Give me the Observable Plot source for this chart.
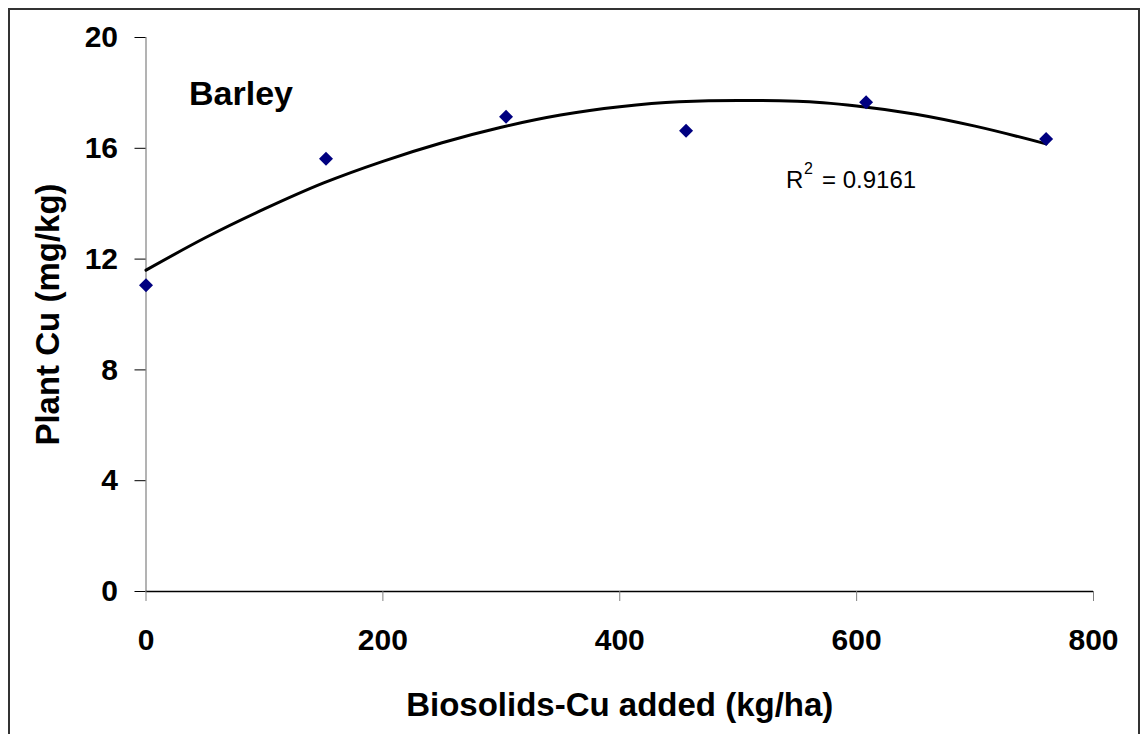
<!DOCTYPE html>
<html>
<head>
<meta charset="utf-8">
<script src="https://cdn.jsdelivr.net/npm/d3@7"></script>
<script src="https://cdn.jsdelivr.net/npm/@observablehq/plot@0.6"></script>
<style>
  html, body { margin: 0; padding: 0; background: #fff; overflow: hidden; }
  #wrap { position: relative; width: 1143px; height: 734px; }
  #border { position: absolute; left: 8px; top: 8px; width: 1132px; height: 760px; border: 2px solid #333; box-sizing: border-box; pointer-events: none; }
  #chart { position: absolute; left: 0; top: 0; }
</style>
</head>
<body>
<div id="wrap"><div id="chart"></div><div id="border"></div></div>
<script>
// Observed data
const doseX = [0, 152, 304, 456, 608, 760];
const plantCu = [11.06, 15.62, 17.14, 16.63, 17.66, 16.34];

// Trend line (polynomial fit)
const trendX = [0, 50, 100, 150, 200, 250, 300, 350, 400, 450, 500, 550, 600, 650, 700, 760];
const trendY = [11.6, 12.77, 13.81, 14.75, 15.53, 16.2, 16.76, 17.2, 17.5, 17.68, 17.73, 17.7, 17.53, 17.23, 16.8, 16.16];

const xTicks = [0, 200, 400, 600, 800];
const yTicks = [0, 4, 8, 12, 16, 20];

const cropLabel = "Barley";
const r2Parts = ["R", "2", "= 0.9161"];
const xTitle = "Biosolids-Cu added (kg/ha)";
const yTitle = "Plant Cu (mg/kg)";

const points = doseX.map((x, i) => ({x, y: plantCu[i]}));
const trend = trendX.map((x, i) => ({x, y: trendY[i]}));

const font = "'Liberation Sans', Arial, Helvetica, sans-serif";

const chart = Plot.plot({
  width: 1143,
  height: 734,
  marginLeft: 145.5,
  marginRight: 50,
  marginTop: 37,
  marginBottom: 143,
  style: {fontFamily: font, background: "transparent", color: "black"},
  x: {domain: [0, 800]},
  y: {domain: [0, 20]},
  marks: [
    Plot.ruleX([0], {stroke: "#808080", strokeWidth: 1.2}),
    Plot.ruleY([0], {stroke: "#000", strokeWidth: 1.5}),
    Plot.axisY({ticks: yTicks, tickSize: 11, tickPadding: 17, fontSize: 30, fontWeight: "bold", stroke: "#000", fill: "#000", label: null, tickFormat: d => String(d)}),
    Plot.axisX({ticks: xTicks, tickSize: 10, tickPadding: 27, fontSize: 30, fontWeight: "bold", stroke: "#808080", fill: "#000", label: null, tickFormat: d => String(d)}),
    Plot.line(trend, {x: "x", y: "y", stroke: "#000", strokeWidth: 3, curve: "monotone-x"}),
    Plot.dot(points, {x: "x", y: "y", symbol: "diamond2", r: 6.3, fill: "#000080", stroke: "none"}),
    Plot.text([cropLabel], {frameAnchor: "top-left", dx: 43, dy: 43, text: d => d, textAnchor: "start", lineAnchor: "top", fontSize: 34, fontWeight: "bold", fill: "#000"}),
    Plot.text([r2Parts[0]], {frameAnchor: "top-left", dx: 640, dy: 133, text: d => d, textAnchor: "start", lineAnchor: "top", fontSize: 24, fill: "#000"}),
    Plot.text([r2Parts[1]], {frameAnchor: "top-left", dx: 658, dy: 125, text: d => d, textAnchor: "start", lineAnchor: "top", fontSize: 16, fill: "#000"}),
    Plot.text([r2Parts[2]], {frameAnchor: "top-left", dx: 676, dy: 133, text: d => d, textAnchor: "start", lineAnchor: "top", fontSize: 24, fill: "#000"}),
    Plot.text([xTitle], {frameAnchor: "bottom", dy: 114, text: d => d, textAnchor: "middle", lineAnchor: "middle", fontSize: 33, fontWeight: "bold", fill: "#000"}),
    Plot.text([yTitle], {frameAnchor: "left", dx: -98, rotate: -90, text: d => d, textAnchor: "middle", lineAnchor: "middle", fontSize: 33, fontWeight: "bold", fill: "#000"})
  ]
});
document.getElementById("chart").appendChild(chart);
</script>
</body>
</html>
